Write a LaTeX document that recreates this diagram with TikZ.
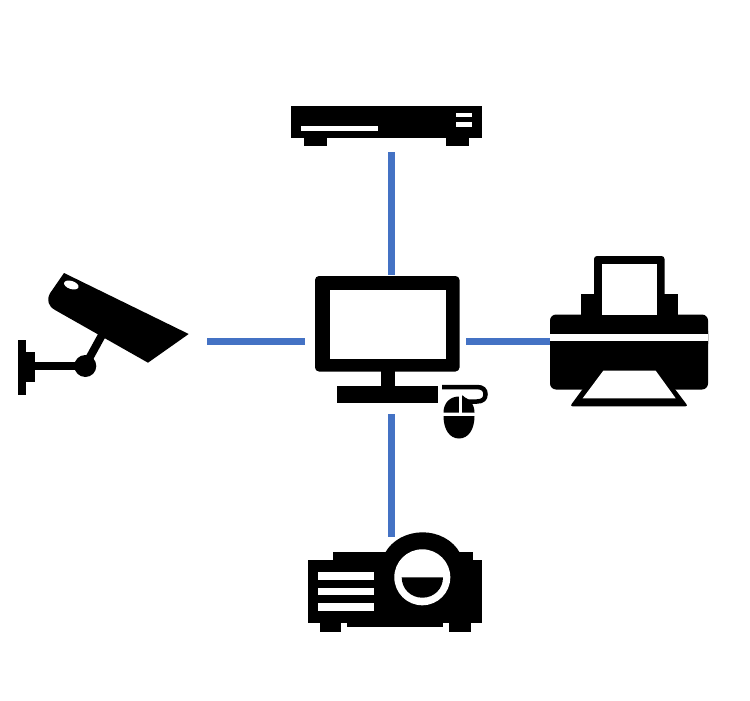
\documentclass[tikz,border=0pt]{standalone}
\tikzset{
  link/.style={draw=linkblue,line width=7.5pt},
  ink/.style={fill=black,draw=none},
  hole/.style={fill=white,draw=none},
}
\definecolor{linkblue}{HTML}{4472C4}
\begin{document}
\begin{tikzpicture}[x=1pt,y=-1pt]
\useasboundingbox (0,0) rectangle (750,701);
\fill[white] (0,0) rectangle (750,701);
% anchors of the connectors
\coordinate (camEnd) at (207,341.5);
\coordinate (pcLeft) at (305,341.5);
\coordinate (pcRight) at (466,341.5);
\coordinate (prnEnd) at (550,341.5);
\coordinate (dvrEnd) at (391.5,152);
\coordinate (pcTop) at (391.5,275);
\coordinate (pcBottom) at (391.5,414);
\coordinate (projEnd) at (391.5,537);
\draw[link] (camEnd) -- (pcLeft);
\draw[link] (pcRight) -- (prnEnd);
\draw[link] (dvrEnd) -- (pcTop);
\draw[link] (pcBottom) -- (projEnd);
% DVR
\fill[ink] (291,105.5) rectangle (482,138);
\fill[ink] (304,138) rectangle (327,145.5);
\fill[ink] (446,138) rectangle (469,145.5);
\fill[hole] (300.5,126) rectangle (378,131);
\fill[hole] (455.5,112.5) rectangle (472,117);
\fill[hole] (455.5,122) rectangle (472,126.5);
% Monitor
\fill[ink,rounded corners=4pt] (315,276) rectangle (459.5,371.5);
\fill[hole] (329.5,289.5) rectangle (445.5,358.5);
\fill[ink] (380.5,371) rectangle (394.5,387);
\fill[ink] (337,386) rectangle (437.5,402.5);
% Mouse
\draw[line width=4.5pt] (442,387) -- (477,387) .. controls (483,387) and (485.5,390) .. (485.5,394.2) .. controls (485.5,398.5) and (483,401.5) .. (477,401.5) -- (466,401.5) -- (461,397);
\fill[ink] (443.5,412.5) .. controls (443.5,403) and (450,396.5) .. (459,396.5) .. controls (468,396.5) and (474.5,403) .. (474.5,412.5) -- cycle;
\fill[ink] (443.5,416) -- (474.5,416) .. controls (474.5,430) and (468,438.5) .. (459,438.5) .. controls (450,438.5) and (443.5,430) .. (443.5,416) -- cycle;
\fill[hole] (458.8,395) rectangle (461.5,413);
% Printer
\fill[ink,rounded corners=3pt] (594,256) rectangle (664.5,320);
\fill[ink] (580.5,294) rectangle (678,320);
\fill[ink,rounded corners=6pt] (550,314.5) rectangle (708,350);
\fill[ink,rounded corners=6pt] (550,325) rectangle (708,389.5);
\fill[hole] (550,333.5) rectangle (708,341);
\fill[hole] (601.5,264) rectangle (657,314.5);
\fill[ink,rounded corners=2.5pt] (570,406.3) -- (601,364) -- (656,364) -- (688,406.3) -- cycle;
\fill[hole] (582.7,398.3) -- (603.3,370.7) -- (655.7,370.7) -- (675.7,398.3) -- cycle;
% Projector
\fill[ink] (385,553) .. controls (392,540) and (407,532.3) .. (422.7,532.3) .. controls (438,532.3) and (453,540) .. (460,553) -- cycle;
\fill[ink] (332.7,552.3) rectangle (473.3,565);
\fill[ink] (308.3,560) rectangle (481.7,622.7);
\fill[ink] (320,622) rectangle (341.3,632.3);
\fill[ink] (449,622) rectangle (470.7,632.3);
\fill[ink] (346.7,622) rectangle (443.3,626.7);
\fill[hole] (318.3,572) rectangle (374.3,579.7);
\fill[hole] (318.3,587.7) rectangle (374.3,595.3);
\fill[hole] (318.3,603.3) rectangle (374.3,611.3);
\fill[hole] (422.3,577.3) circle[radius=28];
\fill[ink] (401.7,577.3) -- (443,577.3) .. controls (443,589) and (434,597.7) .. (422.3,597.7) .. controls (411,597.7) and (401.7,589) .. (401.7,577.3) -- cycle;
% Camera
\fill[ink] (64,273) -- (188.7,334) -- (148,362.7) -- (55,310) .. controls (48,306) and (46.5,300) .. (50,293.3) -- cycle;
\draw[line width=8pt] (85,366) -- (102,335);
\fill[ink] (34,361.5) rectangle (85,370);
\fill[ink] (85.3,366) circle[radius=11];
\fill[ink] (17.5,339.5) rectangle (26,394.5);
\fill[ink] (26,351.5) rectangle (34.5,382);
\fill[hole,rotate around={-18:(71.3,285)}] (71.3,285) ellipse[x radius=7.5,y radius=4];
\end{tikzpicture}
\end{document}
